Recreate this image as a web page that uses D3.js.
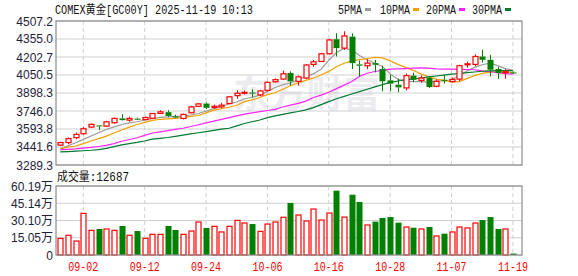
<!DOCTYPE html>
<html>
<head>
<meta charset="utf-8">
<script src="https://cdn.jsdelivr.net/npm/d3@7"></script>
<style>
  html, body { margin: 0; padding: 0; background: #fff; }
  svg { display: block; }
  .mono  { font-family: "Liberation Mono", "DejaVu Sans Mono", "Noto Sans CJK SC", monospace; font-size: 12px; }
  .axisl { font-family: "Liberation Sans", Arial, "Noto Sans CJK SC", sans-serif; font-size: 12px; fill: #1e1e3a; }
  .grid  { stroke: #d0d0d0; stroke-width: 1; }
  .vgrid { stroke: #d0d0d0; stroke-width: 1; stroke-dasharray: 4,3; }
  .frame { fill: none; stroke: #8c8c8c; stroke-width: 1.2; }
</style>
</head>
<body>
<svg id="chart"></svg>
<script>
const SVG_W = 578;
const SVG_H = 276;

const PLOT_L = 56, PLOT_R = 522;
const MAIN_T = 21, MAIN_B = 165;
const VOL_T  = 186, VOL_B  = 255;

const dates = [
  '08-28','08-29','09-01','09-02','09-03','09-04','09-05','09-08','09-09','09-10',
  '09-11','09-12','09-15','09-16','09-17','09-18','09-19','09-22','09-23','09-24',
  '09-25','09-26','09-29','09-30','10-01','10-02','10-03','10-06','10-07','10-08',
  '10-09','10-10','10-13','10-14','10-15','10-16','10-17','10-20','10-21','10-22',
  '10-23','10-24','10-27','10-28','10-29','10-30','10-31','11-03','11-04','11-05',
  '11-06','11-07','11-10','11-11','11-12','11-13','11-14','11-17','11-18','11-19'
];

const opens = [
  3458,3479,3521,3554,3610,3624,3618,3647,3683,3669,
  3681,3674,3685,3725,3736,3700,3683,3731,3786,3809,
  3775,3781,3809,3876,3896,3902,3882,3921,3993,4016,
  4067,3997,4025,4140,4165,4230,4353,4278,4375,4140,
  4129,4151,4101,4005,3969,3941,4045,4005,4025,3955,
  4010,3995,4016,4137,4140,4207,4179,4101,4072,4072
];
const highs = [
  3487,3523,3563,3610,3641,3626,3663,3692,3719,3697,
  3690,3700,3727,3753,3753,3716,3725,3790,3814,3820,
  3800,3815,3872,3922,3918,3930,3925,3996,4022,4087,
  4081,4047,4143,4177,4239,4355,4404,4420,4403,4173,
  4183,4179,4129,4053,4019,4062,4070,4047,4040,4013,
  4047,4030,4137,4163,4225,4263,4221,4118,4100,4080
];
const lows = [
  3450,3464,3507,3545,3604,3585,3612,3639,3665,3655,
  3672,3670,3682,3720,3693,3685,3675,3727,3780,3763,
  3765,3770,3805,3850,3885,3860,3870,3912,3988,4008,
  3960,3961,4016,4120,4162,4223,4207,4263,4101,4039,
  4100,4072,3913,3913,3904,3920,3990,3985,3940,3947,
  3979,3985,3997,4112,4125,4156,4039,4016,4019,4060
];
const closes = [
  3479,3512,3548,3596,3633,3616,3655,3683,3669,3683,
  3677,3691,3725,3739,3705,3690,3717,3781,3806,3773,
  3786,3795,3866,3896,3904,3893,3916,3988,4011,4061,
  3997,4035,4135,4162,4230,4347,4278,4381,4151,4129,
  4151,4137,3997,3977,3946,4045,4011,4025,3949,3997,
  4003,4013,4129,4145,4207,4179,4095,4067,4078,4067
];

// volume in 万 (last bar = 12687 lots)
const volumes = [
  14.5,17.2,12.2,36.3,21.5,22.7,22.7,21.5,25.3,17.2,
  20.9,14.5,18.0,18.0,25.3,21.8,18.0,20.9,28.8,23.6,
  25.0,20.1,25.0,30.2,27.9,27.0,20.6,27.0,28.8,32.9,
  45.4,34.9,29.7,40.1,30.5,36.6,56.1,33.1,52.6,46.2,
  26.2,29.1,32.3,33.1,28.2,24.4,23.8,22.7,24.4,16.6,
  18.6,20.1,24.4,23.6,27.9,30.5,33.1,22.7,22.7,1.2687
];

const ma5 = [
  3428,3452,3478,3506,3534,3562,3590,3612,3632,3645,
  3655,3668,3682,3692,3697,3700,3702,3712,3725,3745,
  3765,3785,3805,3822,3850,3862,3880,3912,3945,3968,
  3983,4010,4039,4060,4100,4175,4240,4275,4262,4215,
  4180,4150,4123,4060,4015,3997,3995,3995,3990,3998,
  4000,4010,4045,4085,4115,4137,4150,4130,4105,4090
];
const ma10 = [
  3428,3440,3450,3470,3492,3512,3534,3560,3585,3610,
  3632,3650,3667,3676,3680,3683,3690,3700,3708,3730,
  3753,3765,3778,3795,3825,3840,3860,3885,3900,3930,
  3960,3985,4005,4025,4050,4081,4120,4150,4170,4180,
  4190,4200,4195,4170,4140,4115,4090,4060,4035,4015,
  4005,3992,3995,4020,4045,4065,4075,4078,4075,4072
];
const ma20 = [
  3420,3422,3425,3432,3438,3446,3455,3470,3490,3505,
  3520,3540,3560,3570,3580,3590,3600,3615,3630,3645,
  3660,3675,3690,3705,3720,3730,3740,3750,3760,3780,
  3795,3810,3830,3860,3880,3905,3935,3965,3995,4040,
  4065,4080,4090,4100,4102,4105,4108,4110,4108,4103,
  4100,4100,4098,4097,4095,4085,4078,4070,4062,4058
];
const ma30 = [
  3400,3403,3406,3410,3414,3420,3430,3445,3460,3470,
  3480,3492,3508,3515,3522,3532,3542,3552,3562,3572,
  3582,3592,3600,3620,3640,3655,3670,3690,3705,3718,
  3730,3742,3756,3775,3800,3825,3850,3870,3890,3910,
  3930,3950,3969,3988,4000,4011,4015,4025,4035,4042,
  4050,4058,4063,4070,4076,4082,4085,4087,4088,4088
];

const priceTicks = [4507.2, 4355.0, 4202.7, 4050.5, 3898.3, 3746.0, 3593.8, 3441.6, 3289.3];
const volTicks   = [60.19, 45.14, 30.10, 15.05, 0];
const volLabels  = ['60.19万', '45.14万', '30.10万', '15.05万', '0'];
const dateTicks  = ['09-02', '09-12', '09-24', '10-06', '10-16', '10-28', '11-07', '11-19'];

const maNames  = ['5PMA', '10PMA', '20PMA', '30PMA'];
const maSeries = [ma5, ma10, ma20, ma30];
const maColors = ['#9a9a9a', '#f2a000', '#ff22ff', '#007a30'];

const UP   = '#ff0000';
const DOWN = '#008000';

const xScale = d3.scalePoint().domain(dates).range([60.3, 512.9]);
const yScale = d3.scaleLinear().domain([3289.3, 4507.2]).range([MAIN_B, MAIN_T]);
const vScale = d3.scaleLinear().domain([0, 60.19]).range([VOL_B, VOL_T]);

const BODY_W = 5;

const svg = d3.select('#chart')
  .attr('width', SVG_W)
  .attr('height', SVG_H)
  .attr('viewBox', `0 0 ${SVG_W} ${SVG_H}`);

svg.append('rect').attr('width', SVG_W).attr('height', SVG_H).attr('fill', '#fff');

// watermark
svg.append('text')
  .attr('x', 233).attr('y', 108)
  .attr('textLength', 147).attr('lengthAdjust', 'spacingAndGlyphs')
  .style('font-family', '"Noto Sans CJK SC", sans-serif')
  .style('font-size', '37px').style('font-weight', 'bold')
  .attr('fill', '#ececf0')
  .text('东方财富');

// grids
const grid = svg.append('g');
priceTicks.forEach(p => {
  grid.append('line').attr('class', 'grid')
    .attr('x1', PLOT_L).attr('x2', PLOT_R)
    .attr('y1', yScale(p)).attr('y2', yScale(p));
});
volTicks.forEach(v => {
  grid.append('line').attr('class', 'grid')
    .attr('x1', PLOT_L).attr('x2', PLOT_R)
    .attr('y1', vScale(v)).attr('y2', vScale(v));
});
dateTicks.forEach(d => {
  grid.append('line').attr('class', 'vgrid')
    .attr('x1', xScale(d)).attr('x2', xScale(d))
    .attr('y1', MAIN_T).attr('y2', MAIN_B);
  grid.append('line').attr('class', 'vgrid')
    .attr('x1', xScale(d)).attr('x2', xScale(d))
    .attr('y1', VOL_T).attr('y2', VOL_B);
});

// MA lines
maSeries.forEach((s, k) => {
  const line = d3.line()
    .x((d, i) => xScale(dates[i]))
    .y(d => yScale(d));
  svg.append('path')
    .attr('d', line(s))
    .attr('fill', 'none')
    .attr('stroke', maColors[k])
    .attr('stroke-width', 1.2);
});

// candles
const candles = svg.append('g');
dates.forEach((d, i) => {
  const up = closes[i] >= opens[i];
  const col = up ? UP : DOWN;
  const cx = Math.round(xScale(d)) + 0.5;
  const yTop = yScale(Math.max(opens[i], closes[i]));
  const yBot = yScale(Math.min(opens[i], closes[i]));
  candles.append('line')
    .attr('x1', cx).attr('x2', cx)
    .attr('y1', yScale(highs[i])).attr('y2', yTop)
    .attr('stroke', col);
  candles.append('line')
    .attr('x1', cx).attr('x2', cx)
    .attr('y1', yBot).attr('y2', yScale(lows[i]))
    .attr('stroke', col);
  const h = Math.max(1, yBot - yTop);
  if (up) {
    candles.append('rect')
      .attr('x', cx - BODY_W / 2).attr('y', yTop)
      .attr('width', BODY_W).attr('height', h)
      .attr('fill', '#fff').attr('stroke', col).attr('stroke-width', 1.2);
  } else {
    candles.append('rect')
      .attr('x', cx - BODY_W / 2 - 0.5).attr('y', yTop)
      .attr('width', BODY_W + 1).attr('height', h)
      .attr('fill', col);
  }
});

// volume bars
const vols = svg.append('g');
dates.forEach((d, i) => {
  const up = closes[i] >= opens[i];
  const cx = Math.round(xScale(d)) + 0.5;
  const y0 = vScale(volumes[i]);
  if (up) {
    vols.append('rect')
      .attr('x', cx - BODY_W / 2).attr('y', y0)
      .attr('width', BODY_W).attr('height', VOL_B - y0)
      .attr('fill', '#fff').attr('stroke', UP).attr('stroke-width', 1.2);
  } else {
    vols.append('rect')
      .attr('x', cx - BODY_W / 2 - 0.5).attr('y', y0)
      .attr('width', BODY_W + 1).attr('height', VOL_B - y0)
      .attr('fill', DOWN);
  }
});

// frames
svg.append('rect').attr('class', 'frame')
  .attr('x', PLOT_L).attr('y', MAIN_T)
  .attr('width', PLOT_R - PLOT_L).attr('height', MAIN_B - MAIN_T);
svg.append('rect').attr('class', 'frame')
  .attr('x', PLOT_L).attr('y', VOL_T)
  .attr('width', PLOT_R - PLOT_L).attr('height', VOL_B - VOL_T);

// y labels
priceTicks.forEach(p => {
  svg.append('text').attr('class', 'axisl')
    .attr('x', 53).attr('y', yScale(p) + 4.5)
    .attr('text-anchor', 'end')
    .text(p.toFixed(1));
});
volTicks.forEach((v, k) => {
  svg.append('text').attr('class', 'axisl')
    .attr('x', 53).attr('y', vScale(v) + 4.5)
    .attr('text-anchor', 'end')
    .text(volLabels[k]);
});

// date labels
dateTicks.forEach(d => {
  svg.append('text').attr('class', 'mono')
    .attr('x', xScale(d)).attr('y', 271)
    .attr('text-anchor', 'middle')
    .attr('textLength', 30).attr('lengthAdjust', 'spacingAndGlyphs')
    .attr('fill', '#ff0000')
    .text(d);
});

// title
svg.append('text').attr('class', 'mono')
  .attr('x', 55).attr('y', 14)
  .attr('textLength', 198).attr('lengthAdjust', 'spacingAndGlyphs')
  .attr('fill', '#111')
  .text('COMEX黄金[GC00Y] 2025-11-19 10:13');

// legend
const legendX = [338, 380, 426, 472];
const legendW = [24, 30, 30, 30];
maNames.forEach((n, k) => {
  svg.append('text').attr('class', 'mono')
    .attr('x', legendX[k]).attr('y', 14)
    .attr('textLength', legendW[k]).attr('lengthAdjust', 'spacingAndGlyphs')
    .attr('fill', '#111')
    .text(n);
  svg.append('rect')
    .attr('x', legendX[k] + legendW[k] + 3).attr('y', 8)
    .attr('width', 6).attr('height', 3)
    .attr('fill', maColors[k]);
});

// volume caption
const lastVol = Math.round(volumes[volumes.length - 1] * 10000);
svg.append('text').attr('class', 'mono')
  .attr('x', 57).attr('y', 181)
  .attr('textLength', 72).attr('lengthAdjust', 'spacingAndGlyphs')
  .attr('fill', '#111')
  .text('成交量:' + lastVol);
</script>
</body>
</html>
